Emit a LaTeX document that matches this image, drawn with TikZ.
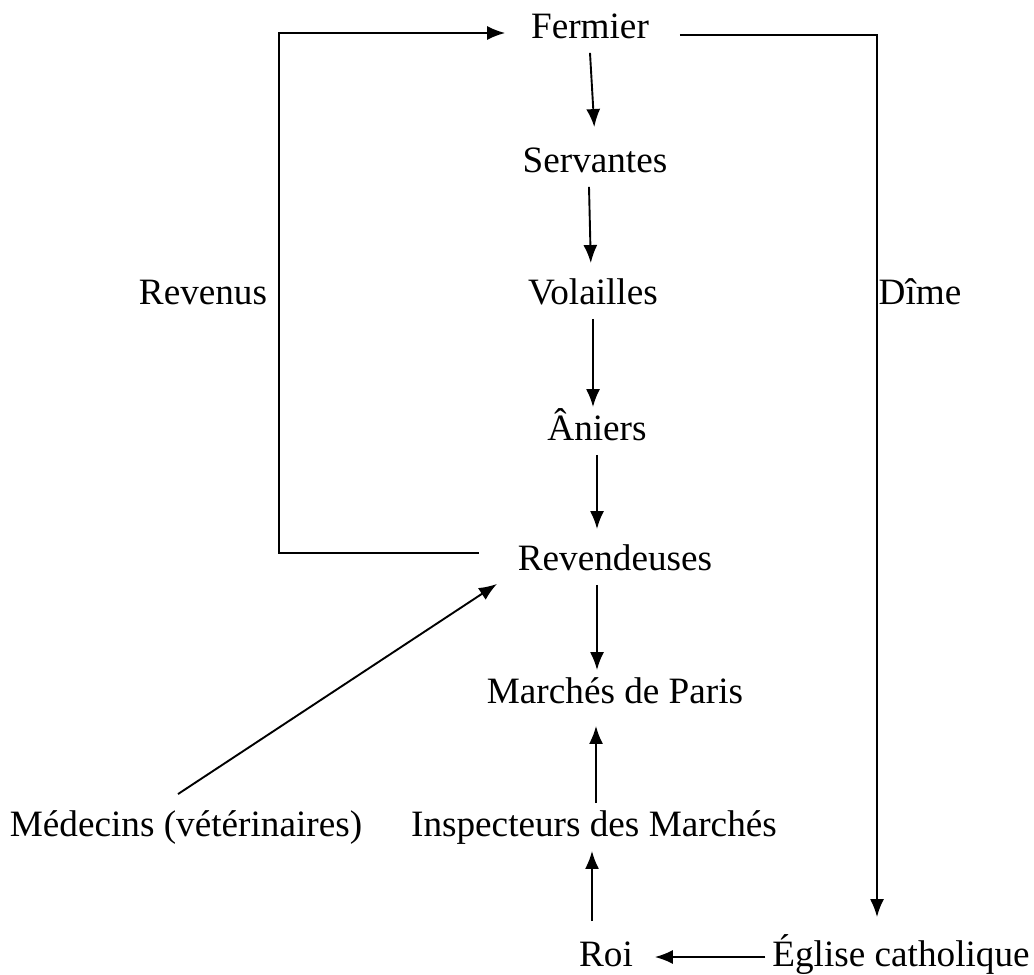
\documentclass[tikz,border=0pt]{standalone}
\usepackage{fontspec}
\setmainfont{Liberation Serif}
\usepackage{tikz}
\usetikzlibrary{arrows.meta}
\usetikzlibrary{calc}

\begin{document}
\begin{tikzpicture}[x=0.5pt,y=-0.5pt,line width=0.95pt,
        >={Latex[length=9pt,width=7pt]},
        lbl/.style={anchor=base,inner sep=3pt,text height=13pt,text depth=4pt,
                font=\fontsize{18.6}{22}\selectfont},
        flow/.style={->,shorten >=2pt}]
        \useasboundingbox (0,0) rectangle (1034,975);
        % the chain from the farm to the markets
        \node[lbl] (fermier) at (590,38) {Fermier};
        \node[lbl] (servantes) at (595,172) {Servantes};
        \node[lbl] (volailles) at (593,304) {Volailles};
        \node[lbl] (aniers) at (597,440) {Âniers};
        \node[lbl] (revendeuses) at (615,570) {Revendeuses};
        \node[lbl] (marches) at (615,703) {Marchés de Paris};
        \node[lbl] (inspecteurs) at (594,836) {Inspecteurs des Marchés};
        \node[lbl] (medecins) at (186,836) {Médecins (vétérinaires)};
        \node[lbl] (roi) at (606,966) {Roi};
        \node[lbl] (eglise) at (901,966) {Église catholique};
        % side labels
        \node[lbl] (revenus) at (203,304) {Revenus};
        \node[lbl] (dime) at (920,304) {Dîme};
        % corners of the two loops
        \coordinate (revtop) at (279,33);
        \coordinate (revbot) at (279,553);
        \coordinate (dimetop) at (877,35);
        % downward arrows
        \draw[flow,shorten >=6pt] (fermier.south) -- (servantes.north);
        \draw[flow,shorten >=4pt] ([xshift=-3pt]servantes.south) -- ([xshift=-1pt]volailles.north);
        \draw[flow,shorten >=0pt] (volailles.south) -- (volailles.south |- aniers.north);
        \draw[flow,shorten >=4pt] (aniers.south) -- (aniers.south |- revendeuses.north);
        \draw[flow,shorten >=0pt] (aniers.south |- revendeuses.south) -- (aniers.south |- marches.north);
        % upward arrows
        \draw[flow,shorten >=4pt] ([xshift=1pt]inspecteurs.north) -- ([xshift=1pt]inspecteurs.north |- marches.south);
        \draw[flow,shorten <=6pt,shorten >=0pt] ([xshift=-7pt]roi.north) -- ([xshift=-7pt]roi.north |- inspecteurs.south);
        \draw[flow,shorten >=7.5pt] (eglise.west) -- (roi.east);
        \draw[flow,shorten >=0pt] ([shift={(-4pt,4.5pt)}]medecins.north) -- ([xshift=-7pt,yshift=0.5pt]revendeuses.south west);
        % the two loops
        \draw[->,shorten >=9.5pt] ([xshift=-16pt]revendeuses.west |- revbot) -- (revbot) -- (revtop) -- (revtop -| fermier.west);
        \draw[->,shorten >=8pt] ([xshift=12pt]fermier.east |- dimetop) -- (dimetop) -- (dimetop |- eglise.north);
\end{tikzpicture}
\end{document}
